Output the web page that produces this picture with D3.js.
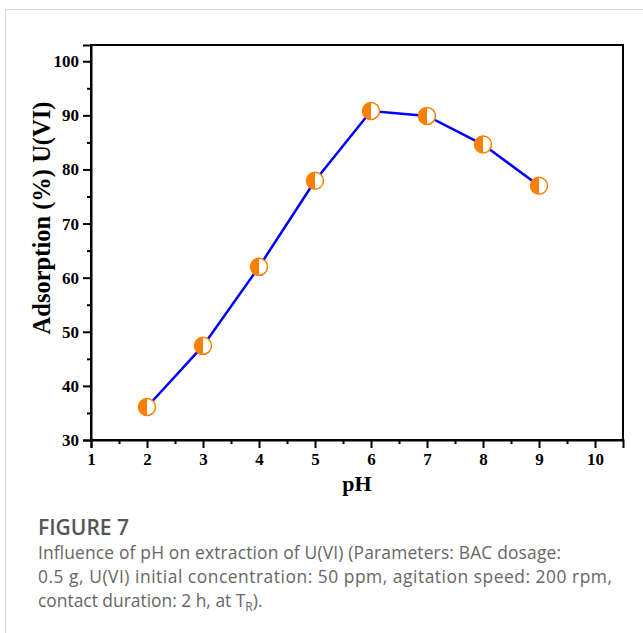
<!DOCTYPE html>
<html>
<head>
    <title>Influence of pH on extraction of U(VI)</title>
    <script src="https://d3js.org/d3.v7.min.js"></script>
    <style>
        body { margin: 0; background: #fff; }
    </style>
</head>
<body>
    <div id="chart"></div>

    <script>
        // values
        const phValues = [2, 3, 4, 5, 6, 7, 8, 9];
        const adsorption = [36.1, 47.4, 62, 77.9, 90.8, 89.9, 84.6, 77];
        const xTicks = [1, 2, 3, 4, 5, 6, 7, 8, 9, 10];
        const yTicks = [30, 40, 50, 60, 70, 80, 90, 100];
        const captionLines = [
            "Influence of pH on extraction of U(VI) (Parameters: BAC dosage:",
            "0.5 g, U(VI) initial concentration: 50 ppm, agitation speed: 200 rpm,",
            "contact duration: 2 h, at T"
        ];

        const W = 643, H = 633;
        const plot = { left: 91, right: 623, top: 45, bottom: 440 };

        const svg = d3.select("#chart").append("svg")
            .attr("width", W)
            .attr("height", H);

        // card outline
        svg.append("path")
            .attr("d", "M5.5,633 L5.5,9.5 L643,9.5")
            .attr("fill", "none")
            .attr("stroke", "#d9d9d9")
            .attr("stroke-width", 1);

        const x = d3.scaleLinear().domain([1, 10.5]).range([plot.left, plot.right]);
        const y = d3.scaleLinear().domain([30, 103]).range([plot.bottom, plot.top]);

        const serif = "'Liberation Serif', 'Times New Roman', serif";

        // frame
        svg.append("rect")
            .attr("x", plot.left)
            .attr("y", plot.top)
            .attr("width", plot.right - plot.left)
            .attr("height", plot.bottom - plot.top)
            .attr("fill", "none")
            .attr("stroke", "#000")
            .attr("stroke-width", 2);

        // x axis
        svg.append("g")
            .attr("class", "axis")
            .attr("transform", "translate(0," + plot.bottom + ")")
            .call(d3.axisBottom(x).tickValues(xTicks).tickFormat(d3.format("d")).tickSize(8).tickPadding(5));
        svg.append("g")
            .attr("transform", "translate(0," + plot.bottom + ")")
            .call(d3.axisBottom(x).tickValues(d3.range(1.5, 10.5, 1)).tickFormat("").tickSize(4))
            .select(".domain").remove();

        // y axis
        svg.append("g")
            .attr("class", "axis")
            .attr("transform", "translate(" + plot.left + ",0)")
            .call(d3.axisLeft(y).tickValues(yTicks).tickFormat(d3.format("d")).tickSize(8).tickPadding(4));
        svg.append("g")
            .attr("transform", "translate(" + plot.left + ",0)")
            .call(d3.axisLeft(y).tickValues(d3.range(35, 105, 10)).tickFormat("").tickSize(4))
            .select(".domain").remove();

        svg.selectAll(".domain").attr("stroke-width", 2);
        svg.selectAll(".tick line").attr("stroke-width", 2);
        svg.selectAll(".tick text")
            .style("font-family", serif)
            .style("font-weight", "bold")
            .style("font-size", "17px")
            .attr("fill", "#000");

        // axis titles
        svg.append("text")
            .attr("x", 357)
            .attr("y", 491)
            .attr("text-anchor", "middle")
            .attr("font-family", serif)
            .attr("font-weight", "bold")
            .attr("font-size", 22)
            .text("pH");

        svg.append("text")
            .attr("transform", "translate(50,218) rotate(-90)")
            .attr("text-anchor", "middle")
            .attr("font-family", serif)
            .attr("font-weight", "bold")
            .attr("font-size", 24.5)
            .text("Adsorption (%) U(VI)");

        // data line
        const line = d3.line()
            .x((d, i) => x(phValues[i]))
            .y(d => y(d));

        svg.append("path")
            .datum(adsorption)
            .attr("d", line)
            .attr("fill", "none")
            .attr("stroke", "#0000ff")
            .attr("stroke-width", 2.5);

        // half-filled circle markers
        const r = 8.5;
        const orange = "#ff7f00";
        const markers = svg.selectAll(".marker")
            .data(adsorption)
            .enter()
            .append("g")
            .attr("class", "marker")
            .attr("transform", (d, i) => "translate(" + x(phValues[i]) + "," + y(d) + ")");

        markers.append("circle")
            .attr("r", r)
            .attr("fill", "#fff")
            .attr("stroke", orange)
            .attr("stroke-width", 1.5);
        markers.append("path")
            .attr("d", d3.arc().innerRadius(0).outerRadius(r)({ startAngle: Math.PI, endAngle: 2 * Math.PI }))
            .attr("fill", orange);

        // caption
        const sans = "'Open Sans', 'Noto Sans', sans-serif";
        svg.append("text")
            .attr("x", 38)
            .attr("y", 535)
            .attr("font-family", sans)
            .attr("font-weight", 600)
            .attr("font-size", 21)
            .attr("fill", "#555")
            .text("FIGURE 7");

        const lineWidths = [523, 574, null];
        captionLines.forEach((t, i) => {
            const tx = svg.append("text")
                .attr("x", 38)
                .attr("y", 559 + i * 24)
                .attr("font-family", sans)
                .attr("font-size", 17.4)
                .attr("fill", "#666")
                .text(t);
            if (lineWidths[i]) {
                tx.attr("textLength", lineWidths[i]).attr("lengthAdjust", "spacing");
            }
            if (i === captionLines.length - 1) {
                tx.append("tspan").attr("font-size", 12).attr("dy", 4).text("R");
                tx.append("tspan").attr("dy", -4).text(").");
            }
        });
    </script>
</body>
</html>
